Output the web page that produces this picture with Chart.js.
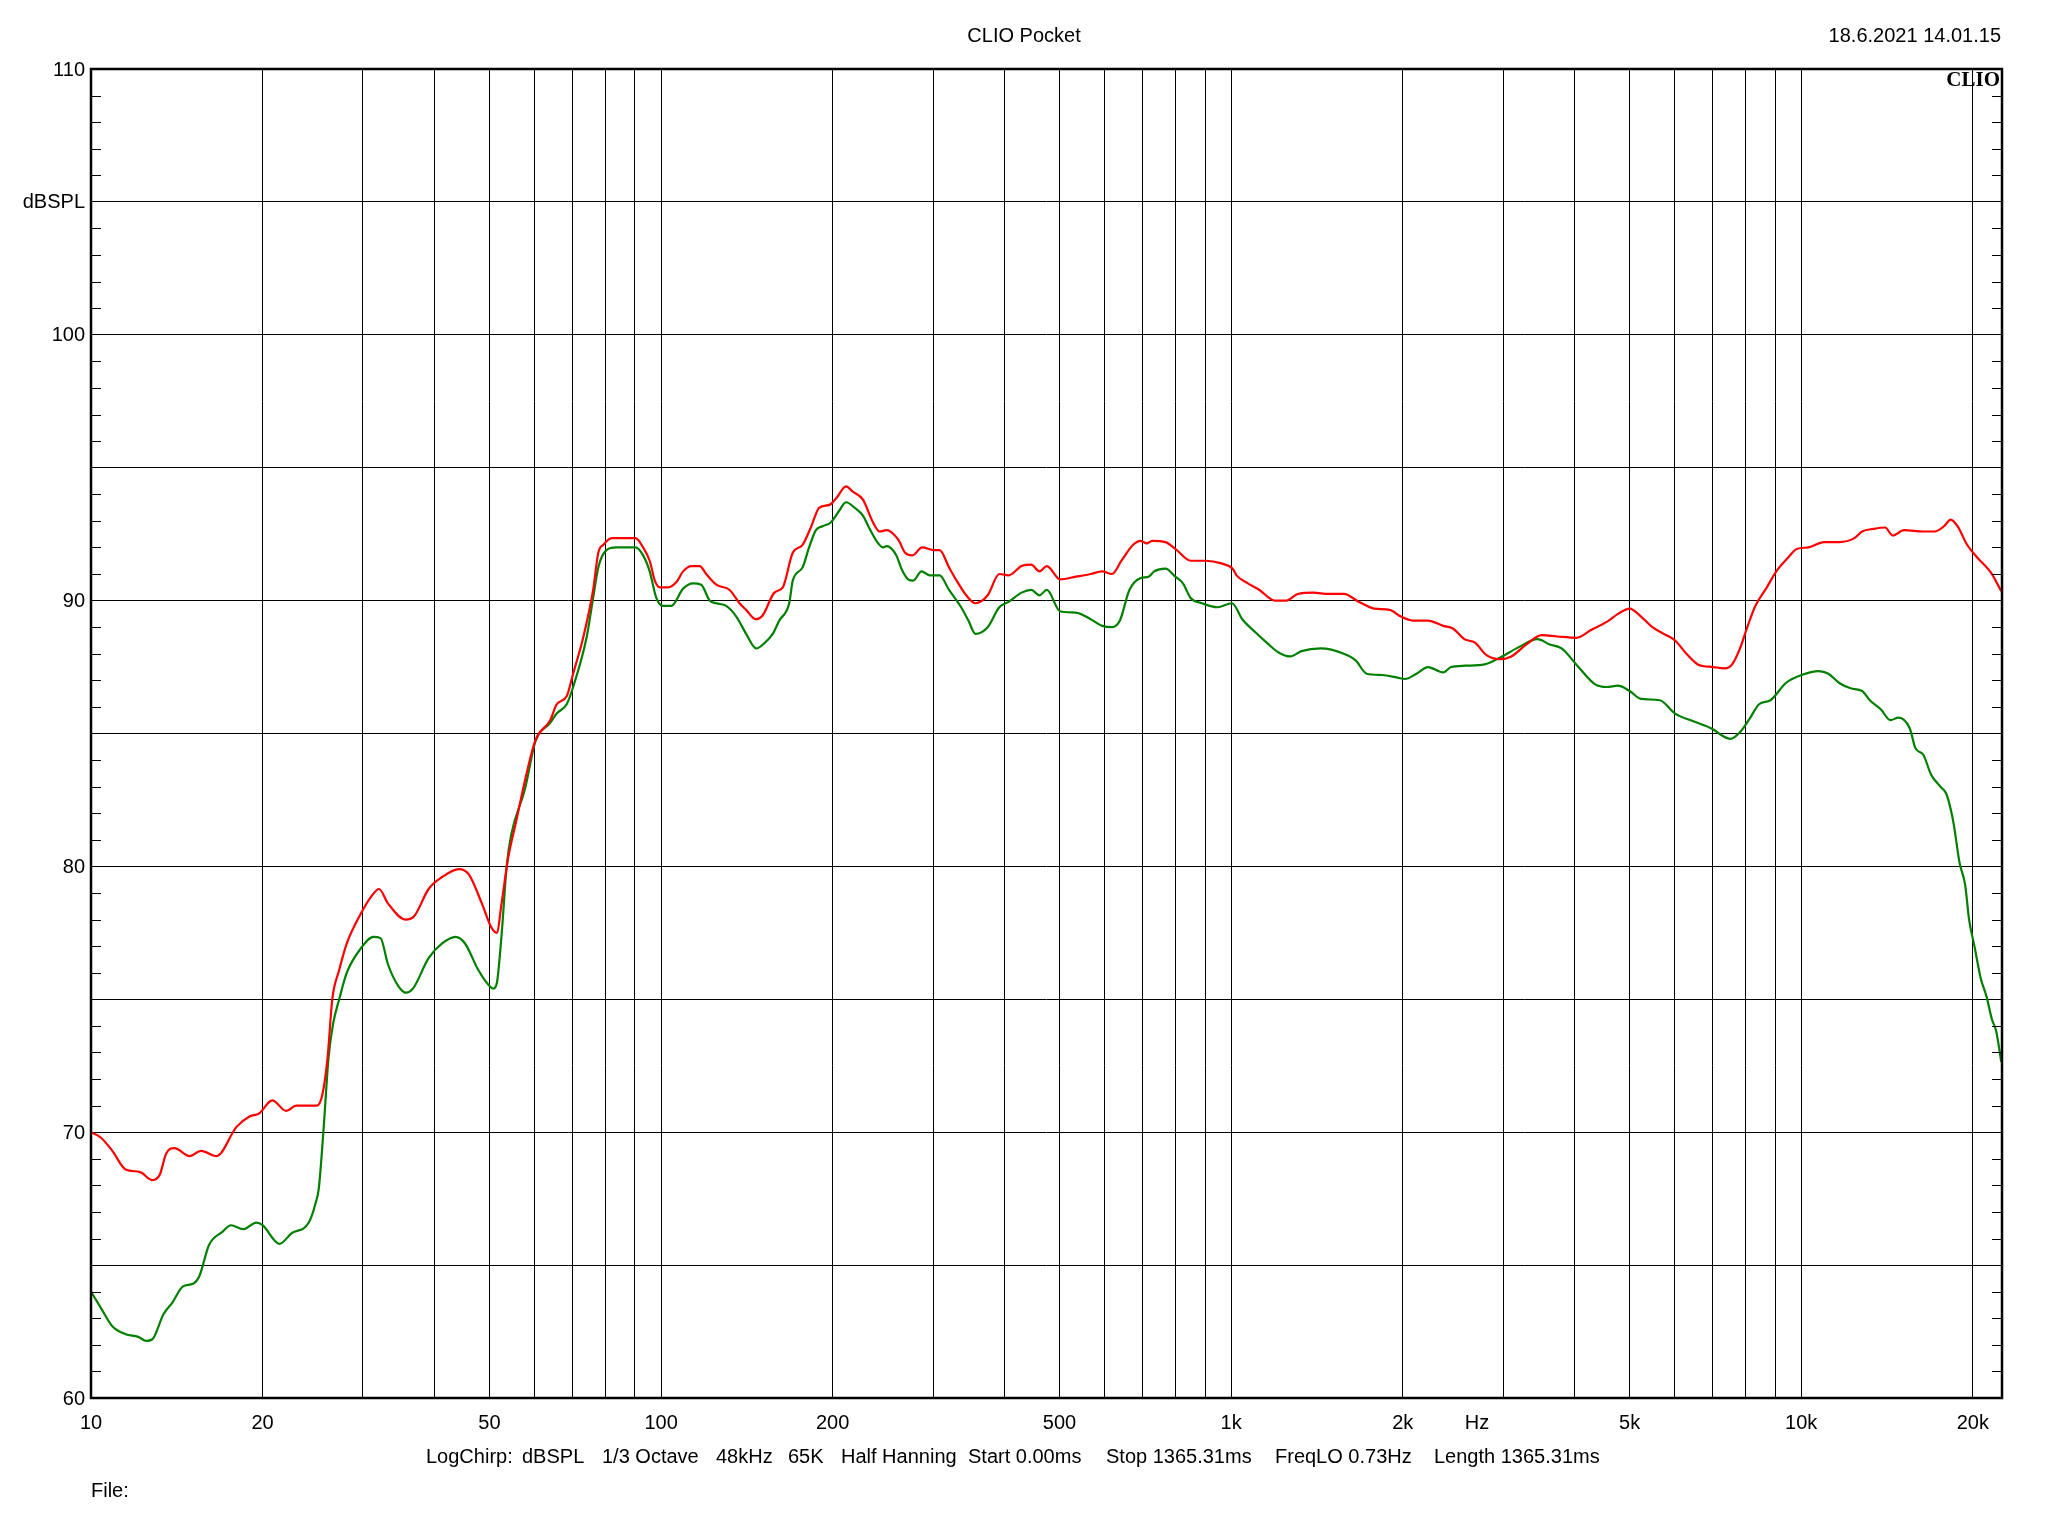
<!DOCTYPE html>
<html>
<head>
<meta charset="utf-8">
<script src="https://cdn.jsdelivr.net/npm/chart.js@4.4.1/dist/chart.umd.min.js"></script>
<style>
  html, body { margin: 0; padding: 0; background: #fff; }
  #wrap { width: 2048px; height: 1536px; }
</style>
</head>
<body>
<div id="wrap"><canvas id="chart1" width="2048" height="1536"></canvas></div>
<script>
// red trace
const redFreq = [10, 10.4, 10.9, 11.5, 12.2, 12.8, 13.2, 13.55, 14.0, 14.9, 15.6, 16.6, 18.0, 19.0, 19.7, 20.8, 22.0, 22.9, 23.8, 24.9,
  25.45, 26.0, 26.5, 27.25, 28.1, 29.7, 31.1, 32.0, 33.2, 35.6, 36.8, 39.1, 41.3, 44.2, 46.0, 48.5, 50.4, 51.5, 52.5, 53.9,
  55.7, 58.1, 60.2, 63.9, 65.6, 68.3, 70.1, 73.0, 76.0, 77.6, 79.2, 81.9, 85.8, 90.2, 93.0, 95.5, 97.5, 99.5, 102.9, 106.4,
  109.3, 113, 116.9, 120, 125, 131.9, 137.3, 141, 146.5, 150.8, 158, 163.5, 170.2, 177.1, 183.1, 189.5, 197.4, 202.9, 211.1, 216.9,
  226, 235.3, 241.8, 248.5, 260.5, 268, 276, 287, 301, 308, 320, 330, 343, 356, 374, 392, 407, 429, 446, 461,
  475, 501, 534, 567, 594, 618, 642, 673, 694, 711, 727, 767, 798, 849, 903, 961, 1006, 1022, 1070, 1121,
  1193, 1250, 1309, 1393, 1482, 1576, 1676, 1783, 1897, 1985, 2081, 2214, 2356, 2448, 2565, 2677, 2805, 2960, 3100, 3296,
  3506, 3731, 4030, 4285, 4558, 4771, 5000, 5235, 5481, 5738, 6008, 6290, 6586, 7011, 7341, 7566, 7809, 8057, 8307, 8703,
  9041, 9469, 9840, 10300, 10960, 11660, 12400, 12790, 13400, 14030, 14470, 15150, 16370, 17140, 17810, 18290, 18800, 19540, 20300, 21600,
  22430];
const redDb = [70.0, 69.8, 69.3, 68.6, 68.5, 68.2, 68.4, 69.2, 69.4, 69.1, 69.3, 69.1, 70.2, 70.6, 70.7, 71.2, 70.8, 71.0, 71.0, 71.0,
  71.4, 72.8, 75.0, 76.1, 77.1, 78.2, 78.9, 79.15, 78.6, 78.0, 78.1, 79.15, 79.6, 79.9, 79.7, 78.6, 77.7, 77.5, 78.6, 80.3,
  81.7, 83.5, 84.75, 85.5, 86.1, 86.4, 87.25, 88.6, 90.4, 91.8, 92.1, 92.35, 92.35, 92.35, 92.0, 91.5, 90.75, 90.5, 90.5, 90.7,
  91.1, 91.3, 91.3, 91.0, 90.6, 90.4, 89.9, 89.65, 89.3, 89.45, 90.3, 90.5, 91.8, 92.1, 92.75, 93.5, 93.6, 93.85, 94.3, 94.1,
  93.8, 92.95, 92.6, 92.65, 92.3, 91.8, 91.7, 92.0, 91.9, 91.9, 91.25, 90.75, 90.2, 89.9, 90.2, 91.0, 90.95, 91.3, 91.35, 91.1,
  91.3, 90.8, 90.9, 91.0, 91.1, 91.0, 91.5, 92.1, 92.25, 92.15, 92.25, 92.2, 91.95, 91.5, 91.5, 91.4, 91.2, 90.95, 90.65, 90.4,
  90.0, 90.0, 90.25, 90.3, 90.25, 90.25, 89.95, 89.7, 89.65, 89.4, 89.25, 89.25, 89.05, 88.95, 88.55, 88.42, 87.95, 87.8, 87.9, 88.35,
  88.7, 88.65, 88.6, 88.9, 89.2, 89.5, 89.7, 89.4, 89.0, 88.75, 88.5, 88.0, 87.6, 87.5, 87.45, 87.6, 88.2, 89.05, 89.8, 90.5,
  91.1, 91.6, 91.95, 92.0, 92.2, 92.2, 92.35, 92.6, 92.7, 92.75, 92.45, 92.65, 92.6, 92.6, 92.8, 93.05, 92.8, 92.1, 91.65, 91.0,
  90.35];

// green trace
const greenFreq = [10, 10.4, 10.9, 11.5, 12.1, 12.5, 12.8, 13.4, 13.9, 14.5, 15.1, 15.5, 16.1, 17.0, 17.6, 18.5, 19.5, 20.0, 21.4, 22.5,
  24.1, 24.75, 25.1, 25.6, 26.1, 26.6, 27.25, 28.1, 29.7, 31.3, 32.2, 33.2, 34.6, 35.7, 36.7, 39.1, 41.3, 43.6, 45.3, 47.8,
  50.0, 50.8, 51.5, 52.5, 53.6, 54.6, 57.7, 60.2, 63.9, 65.6, 68.3, 70.1, 74.0, 76.0, 77.6, 80.2, 83.5, 90.2, 93.0, 95.5,
  98.1, 100.8, 104.2, 109.3, 113.8, 117.6, 121.7, 125, 130.1, 135.5, 141, 146.9, 151.8, 157, 161.2, 167.8, 170.2, 177.1, 181.8, 186.9,
  192, 198.7, 205.6, 211.1, 218.4, 226, 232.2, 238.6, 245.2, 248.5, 258.7, 264, 271.3, 276.9, 286.3, 296.2, 308, 320, 336, 346,
  356, 374, 392, 407, 429, 446, 461, 475, 501, 534, 567, 594, 618, 638, 663, 694, 716, 733, 767, 798,
  823, 849, 889, 946, 1003, 1046, 1104, 1157, 1211, 1269, 1329, 1436, 1576, 1653, 1729, 1840, 1958, 2018, 2114, 2214,
  2356, 2430, 2576, 2783, 2960, 3195, 3447, 3620, 3800, 4030, 4350, 4558, 4771, 5000, 5235, 5650, 6008, 6485, 7011, 7228,
  7510, 7809, 8115, 8435, 8830, 9400, 10010, 10730, 11160, 11660, 12210, 12790, 13190, 13800, 14340, 14810, 15500, 15860, 16370, 16900,
  17540, 17950, 18290, 18510, 18950, 19390, 19700, 20130, 20640, 21140, 21600, 21980, 22430];
const greenDb = [64.0, 63.4, 62.7, 62.4, 62.3, 62.15, 62.2, 63.15, 63.6, 64.2, 64.3, 64.6, 65.75, 66.25, 66.5, 66.35, 66.6, 66.5, 65.8, 66.2,
  66.6, 67.3, 67.9, 70.2, 72.8, 74.1, 75.0, 76.0, 76.9, 77.35, 77.3, 76.3, 75.5, 75.25, 75.4, 76.55, 77.1, 77.35, 77.1, 76.1,
  75.5, 75.4, 75.6, 77.4, 80.0, 81.2, 82.9, 84.7, 85.4, 85.75, 86.1, 86.75, 88.6, 90.1, 91.25, 91.9, 92.0, 92.0, 91.7, 91.1,
  90.1, 89.8, 89.8, 90.45, 90.65, 90.6, 90.0, 89.9, 89.8, 89.4, 88.75, 88.2, 88.4, 88.75, 89.25, 89.9, 90.75, 91.25, 92.0, 92.65,
  92.8, 92.95, 93.4, 93.7, 93.5, 93.2, 92.7, 92.25, 92.0, 92.05, 91.7, 91.2, 90.8, 90.75, 91.1, 90.95, 90.95, 90.4, 89.75, 89.25,
  88.75, 89.0, 89.75, 89.95, 90.3, 90.4, 90.2, 90.4, 89.6, 89.55, 89.3, 89.05, 89.0, 89.25, 90.4, 90.85, 90.9, 91.1, 91.2, 90.9,
  90.65, 90.1, 89.9, 89.75, 89.9, 89.3, 88.8, 88.4, 88.05, 87.9, 88.1, 88.2, 88.0, 87.75, 87.25, 87.2, 87.1, 87.05, 87.25, 87.5,
  87.3, 87.5, 87.55, 87.6, 87.85, 88.25, 88.55, 88.35, 88.2, 87.6, 86.85, 86.75, 86.8, 86.6, 86.3, 86.25, 85.75, 85.45, 85.15, 84.95,
  84.8, 85.05, 85.55, 86.1, 86.25, 86.9, 87.2, 87.35, 87.25, 86.9, 86.7, 86.6, 86.25, 85.9, 85.5, 85.6, 85.2, 84.45, 84.2, 83.45,
  83.0, 82.75, 82.15, 81.6, 80.15, 79.3, 78.0, 77.0, 75.8, 75.1, 74.25, 73.8, 72.65];

// axes
const gridFreqs = [10, 20, 30, 40, 50, 60, 70, 80, 90, 100, 200, 300, 400, 500, 600, 700, 800, 900,
  1000, 2000, 3000, 4000, 5000, 6000, 7000, 8000, 9000, 10000, 20000];
const xLabelValues = [10, 20, 50, 100, 200, 500, 1000, 2000, 2700, 5000, 10000, 20000];
const xLabelTexts = ['10', '20', '50', '100', '200', '500', '1k', '2k', 'Hz', '5k', '10k', '20k'];
const yLabelValues = [60, 70, 80, 90, 100, 105, 110];
const yLabelTexts = ['60', '70', '80', '90', '100', 'dBSPL', '110'];

const infoItems = ['LogChirp:', 'dBSPL', '1/3 Octave', '48kHz', '65K', 'Half Hanning', 'Start 0.00ms', 'Stop 1365.31ms', 'FreqLO 0.73Hz', 'Length 1365.31ms'];
const infoLeft = [426, 522, 602, 716, 788, 841, 968, 1106, 1275, 1434];

const toPoints = (f, d) => f.map((v, i) => ({ x: v, y: d[i] }));

const FONT = '20px "Liberation Sans", Arial, sans-serif';

const textPlugin = {
  id: 'clioText',
  afterDraw(chart) {
    const ctx = chart.ctx;
    const a = chart.chartArea;
    const xs = chart.scales.x;
    const ys = chart.scales.y;
    ctx.save();
    // minor ticks on the dB axis
    ctx.strokeStyle = '#000';
    ctx.lineWidth = 1;
    for (let v = 61; v < 110; v++) {
      if (v % 5 === 0) continue;
      const y = Math.round(ys.getPixelForValue(v)) + 0.5;
      ctx.beginPath();
      ctx.moveTo(a.left, y); ctx.lineTo(a.left + 10, y);
      ctx.moveTo(a.right - 10, y); ctx.lineTo(a.right, y);
      ctx.stroke();
    }
    // frame
    ctx.lineWidth = 2.5;
    ctx.strokeRect(a.left, a.top, a.right - a.left, a.bottom - a.top);

    ctx.fillStyle = '#000';
    ctx.font = FONT;
    ctx.textBaseline = 'middle';
    ctx.textAlign = 'right';
    yLabelValues.forEach((v, i) => ctx.fillText(yLabelTexts[i], 85, ys.getPixelForValue(v) + 1));
    ctx.textAlign = 'center';
    xLabelValues.forEach((v, i) => ctx.fillText(xLabelTexts[i], xs.getPixelForValue(v), 1423));

    ctx.fillText('CLIO Pocket', 1024, 36);
    ctx.textAlign = 'right';
    ctx.fillText('18.6.2021 14.01.15', 2001, 36);

    ctx.textAlign = 'left';
    infoItems.forEach((t, i) => ctx.fillText(t, infoLeft[i], 1457));
    ctx.fillText('File:', 91, 1491);

    ctx.textAlign = 'right';
    ctx.textBaseline = 'alphabetic';
    ctx.font = 'bold 21px "Liberation Serif", "Times New Roman", serif';
    ctx.fillText('CLIO', 2000, 86);
    ctx.restore();
  }
};

const cht1 = document.getElementById('chart1');

new Chart(cht1, {
  type: 'line',
  data: {
    datasets: [{
      label: 'red',
      data: toPoints(redFreq, redDb),
      borderColor: '#ff0000',
      borderWidth: 2.2,
      pointRadius: 0,
      cubicInterpolationMode: 'monotone'
    },
    {
      label: 'green',
      data: toPoints(greenFreq, greenDb),
      borderColor: '#008000',
      borderWidth: 2.2,
      pointRadius: 0,
      cubicInterpolationMode: 'monotone'
    }]
  },
  options: {
    responsive: false,
    animation: false,
    layout: { padding: { left: 91, right: 46, top: 69, bottom: 138 } },
    plugins: { legend: { display: false }, tooltip: { enabled: false } },
    scales: {
      x: {
        type: 'logarithmic',
        min: 10,
        max: 22500,
        afterBuildTicks: (s) => { s.ticks = gridFreqs.map(v => ({ value: v })); },
        ticks: { display: false },
        grid: { color: '#000', lineWidth: 1, drawTicks: false },
        border: { display: false }
      },
      y: {
        min: 60,
        max: 110,
        ticks: { display: false, stepSize: 5 },
        grid: { color: '#000', lineWidth: 1, drawTicks: false },
        border: { display: false }
      }
    }
  },
  plugins: [textPlugin]
});
</script>
</body>
</html>
